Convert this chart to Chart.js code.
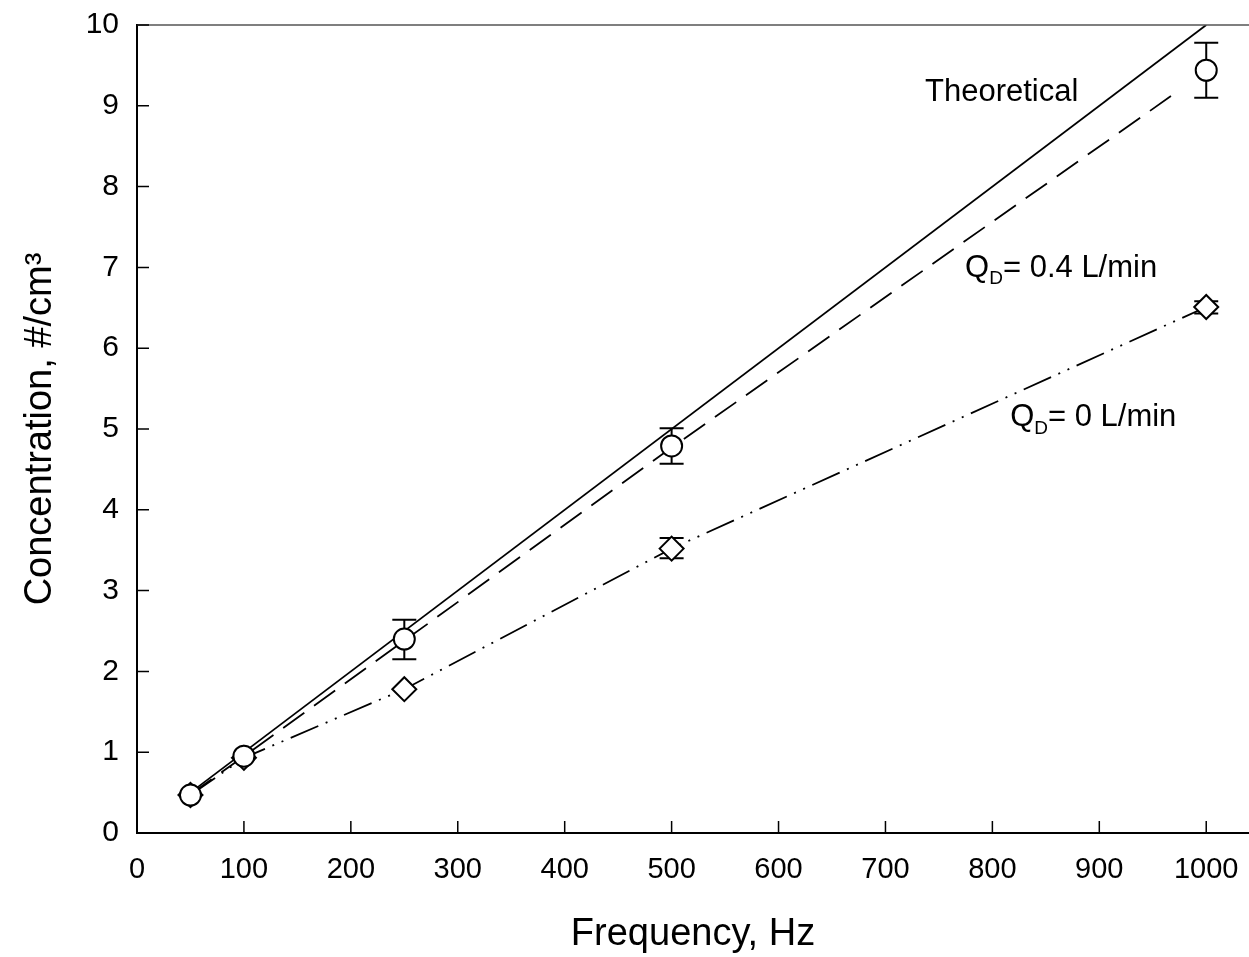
<!DOCTYPE html>
<html>
<head>
<meta charset="utf-8">
<script src="https://cdn.jsdelivr.net/npm/chart.js@4.4.0/dist/chart.umd.min.js"></script>
<style>
	html, body { margin: 0; padding: 0; background: #fff; overflow: hidden; }
	#wrap { width: 1249px; height: 957px; position: relative; }
	canvas { display: block; }
</style>
</head>
<body>
<div id="wrap"><canvas id="chart"></canvas></div>
<script>
// measured points, QD = 0.4 L/min (circles)
var freqQ04 = [50, 100, 250, 500, 1000];
var concQ04 = [0.47, 0.95, 2.40, 4.79, 9.44];
var lowQ04 = [0.47, 0.95, 2.15, 4.57, 9.10];
var highQ04 = [0.47, 0.95, 2.64, 5.01, 9.78];

// measured points, QD = 0 L/min (diamonds)
var freqQ0 = [50, 100, 250, 500, 1000];
var concQ0 = [0.47, 0.93, 1.78, 3.52, 6.51];
var lowQ0 = [0.47, 0.93, 1.78, 3.40, 6.43];
var highQ0 = [0.47, 0.93, 1.78, 3.65, 6.58];

// theoretical line
var theoryFreq = [50, 1000];
var theoryConc = [0.5, 10];

// dashed curve for QD = 0.4
var fitFreq = [50, 100, 250, 500, 967];
var fitConc = [0.48, 0.95, 2.38, 4.77, 9.12];

var FONT = "'Liberation Sans', Arial, sans-serif";

function pairs(xs, ys) {
	var out = [];
	for (var i = 0; i < xs.length; i++) {
		out.push({x: xs[i], y: ys[i]});
	}
	return out;
}

var errorBars = {
	id: 'errorBars',
	beforeDatasetsDraw: function(chart) {
		var ctx = chart.ctx;
		var xs = chart.scales.x, ys = chart.scales.y;
		var sets = [[freqQ04, lowQ04, highQ04], [freqQ0, lowQ0, highQ0]];
		ctx.save();
		ctx.strokeStyle = '#000';
		ctx.lineWidth = 2;
		for (var s = 0; s < sets.length; s++) {
			var f = sets[s][0], lo = sets[s][1], hi = sets[s][2];
			for (var i = 0; i < f.length; i++) {
				if (hi[i] - lo[i] <= 0) continue;
				var px = xs.getPixelForValue(f[i]);
				var p1 = ys.getPixelForValue(lo[i]);
				var p2 = ys.getPixelForValue(hi[i]);
				ctx.beginPath();
				ctx.moveTo(px, p1); ctx.lineTo(px, p2);
				ctx.moveTo(px - 12, p1); ctx.lineTo(px + 12, p1);
				ctx.moveTo(px - 12, p2); ctx.lineTo(px + 12, p2);
				ctx.stroke();
			}
		}
		ctx.restore();
	}
};

var frameAndText = {
	id: 'frameAndText',
	afterDraw: function(chart) {
		var ctx = chart.ctx;
		var xs = chart.scales.x, ys = chart.scales.y;
		var a = chart.chartArea;
		ctx.save();
		// top frame line
		ctx.strokeStyle = '#555';
		ctx.lineWidth = 1.5;
		ctx.beginPath();
		ctx.moveTo(a.left, a.top); ctx.lineTo(a.right, a.top);
		ctx.stroke();

		// inward tick marks
		ctx.strokeStyle = '#000';
		ctx.lineWidth = 1.5;
		ctx.beginPath();
		xs.ticks.forEach(function(t) {
			var px = xs.getPixelForValue(t.value);
			if (t.value === 0) return;
			ctx.moveTo(px, a.bottom); ctx.lineTo(px, a.bottom - 12);
		});
		ys.ticks.forEach(function(t) {
			var py = ys.getPixelForValue(t.value);
			if (t.value === 0) return;
			ctx.moveTo(a.left, py); ctx.lineTo(a.left + 12, py);
		});
		ctx.stroke();

		// curve labels
		ctx.fillStyle = '#000';
		ctx.textBaseline = 'middle';
		ctx.textAlign = 'left';
		ctx.font = '31px ' + FONT;
		ctx.fillText('Theoretical', xs.getPixelForValue(737), ys.getPixelForValue(9.17));

		var qLabels = [['= 0.4 L/min', 774.5, 6.99], ['= 0 L/min', 816.6, 5.14]];
		for (var i = 0; i < qLabels.length; i++) {
			var lx = xs.getPixelForValue(qLabels[i][1]);
			var ly = ys.getPixelForValue(qLabels[i][2]);
			ctx.font = '31px ' + FONT;
			ctx.fillText('Q', lx, ly);
			var qw = ctx.measureText('Q').width;
			ctx.font = '19px ' + FONT;
			ctx.fillText('D', lx + qw, ly + 11);
			var dw = ctx.measureText('D').width;
			ctx.font = '31px ' + FONT;
			ctx.fillText(qLabels[i][0], lx + qw + dw, ly);
		}
		ctx.restore();
	}
};

var chart = new Chart(document.getElementById('chart'), {
	type: 'scatter',
	data: {
		datasets: [
			{
				label: 'QD = 0.4 L/min',
				data: pairs(freqQ04, concQ04),
				showLine: false,
				pointStyle: 'circle',
				pointRadius: 10.5,
				pointBorderWidth: 2,
				pointBorderColor: '#000',
				pointBackgroundColor: '#fff'
			},
			{
				label: 'QD = 0 L/min',
				data: pairs(freqQ0, concQ0),
				showLine: false,
				pointStyle: 'rectRot',
				pointRadius: 12,
				pointBorderWidth: 2,
				pointBorderColor: '#000',
				pointBackgroundColor: '#fff'
			},
			{
				label: 'Theoretical',
				data: pairs(theoryFreq, theoryConc),
				showLine: true,
				pointRadius: 0,
				borderColor: '#000',
				borderWidth: 1.8
			},
			{
				label: 'fit 0.4',
				data: pairs(fitFreq, fitConc),
				showLine: true,
				pointRadius: 0,
				borderColor: '#000',
				borderWidth: 1.8,
				borderDash: [26, 12]
			},
			{
				label: 'fit 0',
				data: pairs(freqQ0, concQ0),
				showLine: true,
				pointRadius: 0,
				borderColor: '#000',
				borderWidth: 1.8,
				borderDash: [30, 8, 2, 8, 2, 8]
			}
		]
	},
	options: {
		responsive: true,
		maintainAspectRatio: false,
		animation: false,
		layout: { autoPadding: false, padding: { top: 25, right: 0, left: 0, bottom: 0 } },
		plugins: {
			legend: { display: false },
			tooltip: { enabled: false }
		},
		scales: {
			x: {
				type: 'linear',
				min: 0,
				max: 1040,
				grid: { display: false, drawTicks: false },
				border: { color: '#000', width: 2 },
				ticks: {
					stepSize: 100,
					includeBounds: false,
					padding: 20,
					color: '#000',
					font: { family: FONT, size: 29 },
					callback: function(v) { return String(v); }
				},
				title: {
					display: true,
					text: 'Frequency, Hz',
					color: '#000',
					font: { family: FONT, size: 38 },
					padding: { top: 0, bottom: 0 }
				},
				afterFit: function(scale) {
					scale.height = 124;
					scale.paddingLeft = 0;
					scale.paddingRight = 0;
				}
			},
			y: {
				type: 'linear',
				min: 0,
				max: 10,
				grid: { display: false, drawTicks: false },
				border: { color: '#000', width: 2 },
				ticks: {
					stepSize: 1,
					padding: 18,
					color: '#000',
					font: { family: FONT, size: 30 }
				},
				title: {
					display: true,
					text: 'Concentration, #/cm³',
					color: '#000',
					font: { family: FONT, size: 38 },
					padding: { top: 18, bottom: 0 }
				},
				afterFit: function(scale) {
					scale.width = 137;
					scale.paddingTop = 0;
					scale.paddingBottom = 0;
				}
			}
		}
	},
	plugins: [errorBars, frameAndText]
});
</script>
</body>
</html>
